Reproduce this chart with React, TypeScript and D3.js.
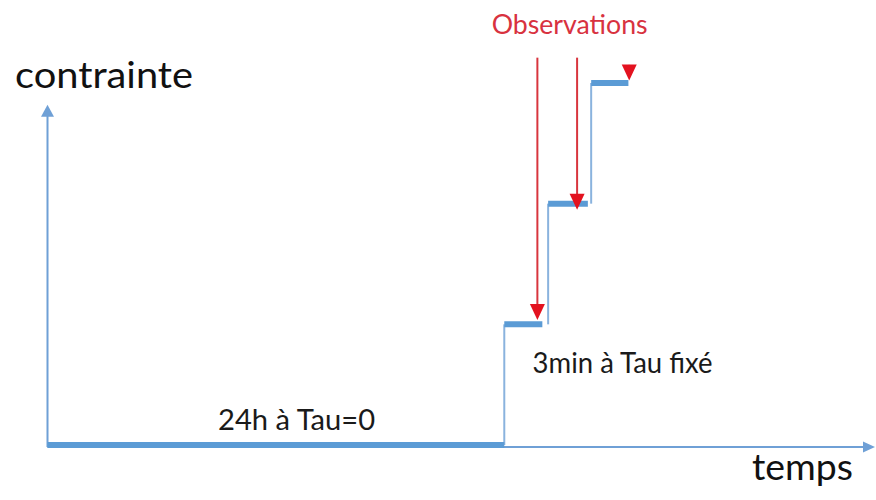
import { useEffect } from 'react';
import * as d3 from 'd3';

// step loading: stress level held over each time window (arbitrary units)
const stressLevels = [0, 1, 2, 3];
const holdStarts = [0, 55.2, 60.5, 65.7];
const holdEnds = [55.2, 59.8, 65.3, 70.2];

// observation arrows: time, top of the arrow and where its tip lands (stress units)
const obsTimes = [59.2, 64.0, 70.3];
const obsTops = [3.21, 3.21, 3.15];
const obsTips = [1.035, 1.95, 3.02];

const yAxisMax = 2.82;
const xAxisMax = 100;

const labels = [
  { text: '24h à Tau=0', t: 30.1, s: 0.124, size: 28, width: 157 },
  { text: '3min à Tau fixé', t: 69.5, s: 0.597, size: 28, width: 180 },
];

const W = 876;
const H = 500;
const FONT = 'Lato, "Open Sans", sans-serif';
const BLUE = '#5b9bd5';
const THIN = '#8ab3de';
const AXIS = '#6fa0d6';
const RED = '#e3121f';

export default function App() {
  useEffect(() => {
    document.body.style.margin = '0';
  }, []);

  const x = d3.scaleLinear().domain([0, xAxisMax]).range([47.5, 875]);
  const y = d3.scaleLinear().domain([0, 3]).range([445, 83]);

  const x0 = x(0);
  const y0 = y(0) + 2;
  const yTop = y(yAxisMax);
  const xEnd = x(xAxisMax);

  return (
    <svg width={W} height={H} style={{ display: 'block', background: '#fff' }}>
      {/* axes */}
      <line x1={x0} x2={x0} y1={y0} y2={yTop + 10} stroke={AXIS} strokeWidth={2} />
      <path d={`M${x0},${yTop} L${x0 - 6.5},${yTop + 12} L${x0 + 6.5},${yTop + 12} Z`} fill={AXIS} />
      <line x1={x0} x2={xEnd - 10} y1={y0} y2={y0} stroke={AXIS} strokeWidth={2} />
      <path d={`M${xEnd},${y0} L${xEnd - 12},${y0 - 5.5} L${xEnd - 12},${y0 + 5.5} Z`} fill={AXIS} />

      {/* rises between holds */}
      {stressLevels.slice(1).map((lv, i) => (
        <line
          key={`rise-${i}`}
          x1={x(holdStarts[i + 1])}
          x2={x(holdStarts[i + 1])}
          y1={y(stressLevels[i])}
          y2={y(lv)}
          stroke={THIN}
          strokeWidth={2}
        />
      ))}

      {/* holds */}
      {stressLevels.map((lv, i) => (
        <line
          key={`hold-${i}`}
          x1={x(holdStarts[i])}
          x2={x(holdEnds[i])}
          y1={y(lv)}
          y2={y(lv)}
          stroke={BLUE}
          strokeWidth={6}
        />
      ))}

      {/* observation arrows */}
      {obsTimes.map((t, i) => {
        const cx = x(t);
        const tip = y(obsTips[i]);
        return (
          <g key={`obs-${i}`}>
            <line x1={cx} x2={cx} y1={y(obsTops[i])} y2={tip - 12} stroke="#d8353e" strokeWidth={2} />
            <path d={`M${cx},${tip} L${cx - 7.5},${tip - 16} L${cx + 7.5},${tip - 16} Z`} fill={RED} />
          </g>
        );
      })}

      <text
        x={x(63.1)}
        y={y(3.41)}
        textAnchor="middle"
        fontFamily={FONT}
        fontSize={26}
        fill="#d8323f"
        textLength={156}
        lengthAdjust="spacingAndGlyphs"
      >
        Observations
      </text>

      {labels.map(l => (
        <text
          key={l.text}
          x={x(l.t)}
          y={y(l.s)}
          textAnchor="middle"
          fontFamily={FONT}
          fontSize={l.size}
          fill="#1a1a1a"
          textLength={l.width}
          lengthAdjust="spacingAndGlyphs"
        >
          {l.text}
        </text>
      ))}

      {/* axis titles */}
      <text
        x={x0 - 32.5}
        y={yTop - 17}
        fontFamily={FONT}
        fontSize={36}
        fill="#111"
        textLength={178}
        lengthAdjust="spacingAndGlyphs"
      >
        contrainte
      </text>
      <text
        x={xEnd - 22}
        y={y0 + 33}
        textAnchor="end"
        fontFamily={FONT}
        fontSize={36}
        fill="#111"
        textLength={101}
        lengthAdjust="spacingAndGlyphs"
      >
        temps
      </text>
    </svg>
  );
}
